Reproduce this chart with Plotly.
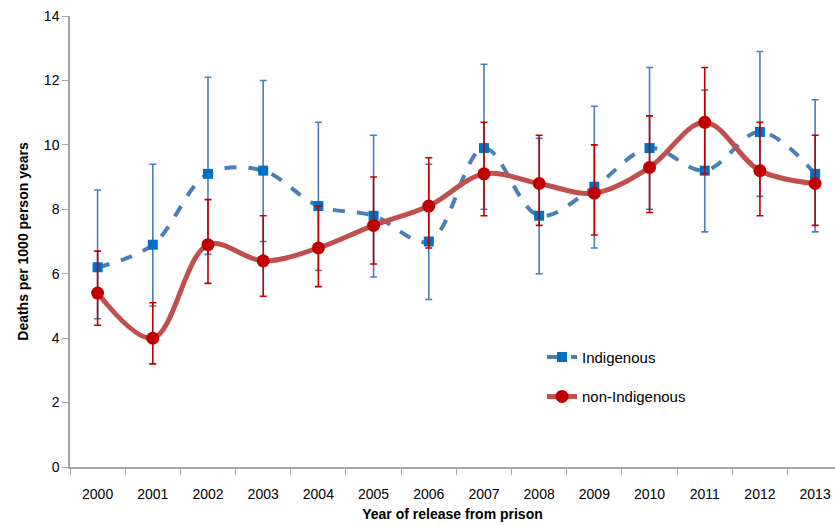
import plotly.graph_objects as go

years = ["2000", "2001", "2002", "2003", "2004", "2005", "2006", "2007", "2008", "2009", "2010", "2011", "2012", "2013"]

indig = [6.2, 6.9, 9.1, 9.2, 8.1, 7.8, 7.0, 9.9, 7.8, 8.7, 9.9, 9.2, 10.4, 9.1]
indig_hi = [8.6, 9.4, 12.1, 12.0, 10.7, 10.3, 9.4, 12.5, 10.2, 11.2, 12.4, 11.7, 12.9, 11.4]
indig_lo = [4.6, 5.0, 6.6, 7.0, 6.1, 5.9, 5.2, 8.0, 6.0, 6.8, 8.0, 7.3, 8.4, 7.3]

nonind = [5.4, 4.0, 6.9, 6.4, 6.8, 7.5, 8.1, 9.1, 8.8, 8.5, 9.3, 10.7, 9.2, 8.8]
nonind_hi = [6.7, 5.1, 8.3, 7.8, 8.1, 9.0, 9.6, 10.7, 10.3, 10.0, 10.9, 12.4, 10.7, 10.3]
nonind_lo = [4.4, 3.2, 5.7, 5.3, 5.6, 6.3, 6.8, 7.8, 7.5, 7.2, 7.9, 9.1, 7.8, 7.5]

y_ticks = [0, 2, 4, 6, 8, 10, 12, 14]

xi = list(range(len(years)))

fig = go.Figure()
fig.add_trace(go.Scatter(
    x=xi, y=indig, name="Indigenous", mode="lines+markers",
    line=dict(color="#4A7EBB", width=4, dash="dash", shape="spline", smoothing=1.0),
    marker=dict(symbol="square", size=10, color="#0070C0"),
    error_y=dict(type="data", symmetric=False,
                 array=[h - v for h, v in zip(indig_hi, indig)],
                 arrayminus=[v - l for l, v in zip(indig_lo, indig)],
                 color="#4A7EBB", thickness=1.6, width=3.5),
    legendgroup="a",
))
fig.add_trace(go.Scatter(
    x=xi, y=nonind, name="non-Indigenous", mode="lines+markers",
    line=dict(color="#C0504D", width=5, shape="spline", smoothing=1.0),
    marker=dict(symbol="circle", size=13, color="#C00000"),
    error_y=dict(type="data", symmetric=False,
                 array=[h - v for h, v in zip(nonind_hi, nonind)],
                 arrayminus=[v - l for l, v in zip(nonind_lo, nonind)],
                 color="#C00000", thickness=1.6, width=3.5),
    legendgroup="b",
))

fig.update_layout(
    width=835, height=525,
    margin=dict(l=70, r=0, t=16, b=58, autoexpand=False),
    paper_bgcolor="white", plot_bgcolor="white",
    font=dict(family="Liberation Sans, Arial, sans-serif", size=14, color="#000000"),
    showlegend=True,
    legend=dict(x=0.617, y=0.28, xanchor="left", yanchor="top",
                bgcolor="rgba(0,0,0,0)", font=dict(size=15), tracegroupgap=17),
    xaxis=dict(
        range=[-0.5, 13.36], tickmode="array", tickvals=xi, ticktext=years,
        showgrid=False, zeroline=False, showline=True, linecolor="#A6A6A6", linewidth=1.5,
        ticks="", tickfont=dict(size=14), automargin=False, ticklabelstandoff=13,
        title=dict(text="<b>Year of release from prison</b>", font=dict(size=14), standoff=9),
        minor=dict(tickvals=[k - 0.5 for k in range(15)], ticks="outside", ticklen=6,
                   tickcolor="#A6A6A6", showgrid=False),
    ),
    yaxis=dict(
        range=[0, 14], tickmode="array", tickvals=y_ticks, automargin=False,
        showgrid=False, zeroline=False, showline=True, linecolor="#A6A6A6", linewidth=1.5,
        ticks="outside", ticklen=6, tickcolor="#A6A6A6", tickfont=dict(size=14),
        title=dict(text="<b>Deaths per 1000 person years</b>", font=dict(size=14), standoff=12),
    ),
)

fig.write_html("out.html", config={"displayModeBar": False},
               post_script="document.body.style.margin='0';document.body.style.padding='0';")
